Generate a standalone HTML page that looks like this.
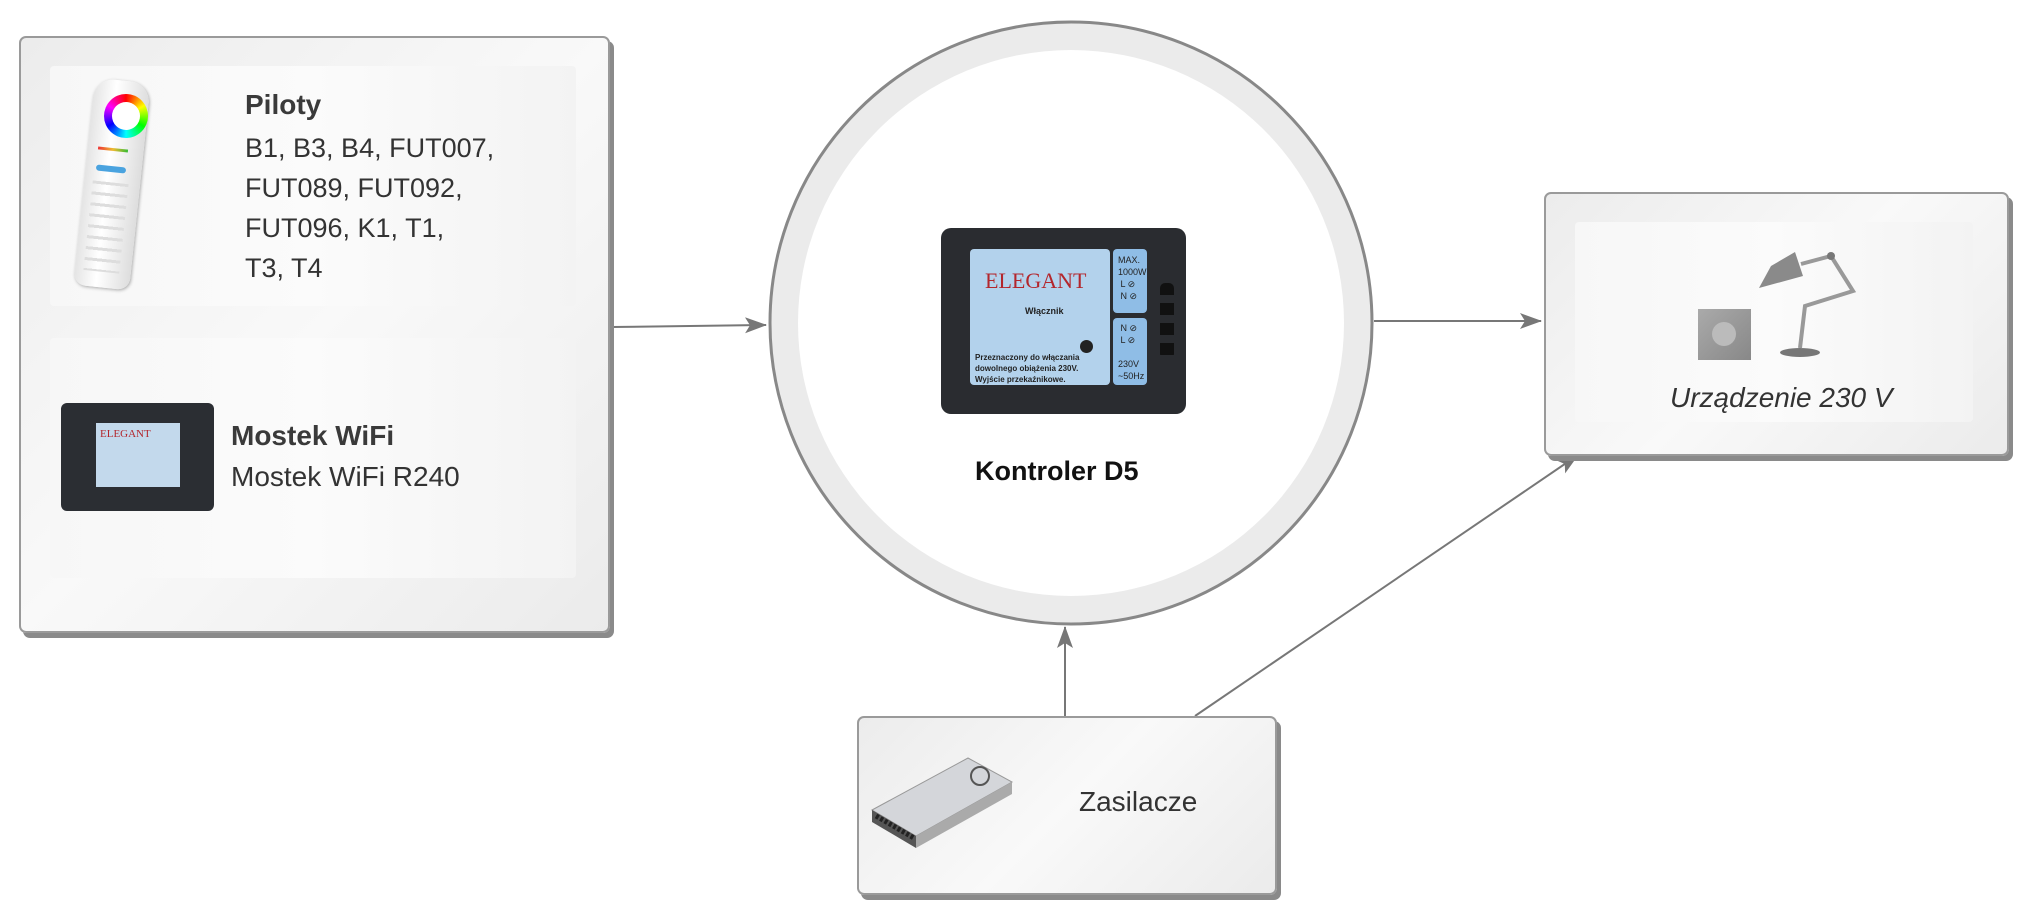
<!DOCTYPE html>
<html><head><meta charset="utf-8"><style>
body{margin:0;width:2030px;height:918px;background:#fff;position:relative;overflow:hidden;font-family:"Liberation Sans",sans-serif;color:#333}
.box{position:absolute;border:2px solid #9a9a9a;border-radius:7px;background:linear-gradient(135deg,#ececec,#f9f9f9 50%,#ebebeb);box-shadow:4px 5px 0 #8a8a8a}
.panel{position:absolute;background:linear-gradient(90deg,#f7f7f7,#fbfbfb 50%,#f3f3f3);border-radius:4px}
.t{position:absolute;white-space:nowrap}
</style></head><body>
<svg width="2030" height="918" style="position:absolute;left:0;top:0">
<defs><marker id="a" markerWidth="22" markerHeight="16" refX="21" refY="8" orient="auto" markerUnits="userSpaceOnUse"><path d="M0,0 L22,8 L0,16 L5,8 Z" fill="#777"/></marker></defs>
<circle cx="1071" cy="323" r="301" fill="#ebebeb" stroke="#888" stroke-width="3"/>
<circle cx="1071" cy="323" r="273" fill="#fff"/>
<g stroke="#777" stroke-width="2" fill="none">
<line x1="612" y1="327" x2="766" y2="325" marker-end="url(#a)"/>
<line x1="1374" y1="321" x2="1541" y2="321" marker-end="url(#a)"/>
<line x1="1065" y1="716" x2="1065" y2="627" marker-end="url(#a)"/>
<line x1="1195" y1="716" x2="1578" y2="455" marker-end="url(#a)"/>
</g>
</svg>
<div class="box" style="left:19px;top:36px;width:587px;height:593px"></div>
<div class="panel" style="left:50px;top:66px;width:526px;height:240px"></div>
<div class="panel" style="left:50px;top:338px;width:526px;height:240px"></div>
<!-- remote -->
<div style="position:absolute;left:84px;top:80px;width:56px;height:208px;background:linear-gradient(90deg,#e4e4e4,#fff 40%,#ddd);border-radius:20px 20px 12px 12px;transform:rotate(6deg);box-shadow:1px 1px 3px #aaa"></div>
<div style="position:absolute;left:104px;top:94px;width:44px;height:44px;border-radius:50%;background:conic-gradient(red,yellow,lime,cyan,blue,magenta,red);"></div>
<div style="position:absolute;left:112px;top:102px;width:28px;height:28px;border-radius:50%;background:#fff"></div>
<div style="position:absolute;left:98px;top:148px;width:30px;height:3px;background:linear-gradient(90deg,#e33,#eb3,#3b3);transform:rotate(6deg)"></div>
<div style="position:absolute;left:96px;top:166px;width:30px;height:6px;background:#4aa3df;border-radius:3px;transform:rotate(6deg)"></div>
<div style="position:absolute;left:88px;top:182px;width:36px;height:90px;transform:rotate(6deg);background:repeating-linear-gradient(180deg,#ddd 0 3px,transparent 3px 11px)"></div>
<div class="t" style="left:245px;top:89px;font-size:28px;font-weight:bold;color:#3a3a3a">Piloty</div>
<div class="t" style="left:245px;top:128px;font-size:27px;line-height:40px">B1, B3, B4, FUT007,<br>FUT089, FUT092,<br>FUT096, K1, T1,<br>T3, T4</div>
<!-- mostek -->
<div style="position:absolute;left:61px;top:403px;width:153px;height:108px;background:#2b2e33;border-radius:6px"></div>
<div style="position:absolute;left:96px;top:423px;width:84px;height:64px;background:#c3d9ec"></div>
<div class="t" style="left:100px;top:428px;font-size:11px;color:#b3262c;font-family:'Liberation Serif',serif">ELEGANT</div>
<div class="t" style="left:231px;top:420px;font-size:28px;font-weight:bold;color:#3a3a3a">Mostek WiFi</div>
<div class="t" style="left:231px;top:461px;font-size:28px">Mostek WiFi R240</div>
<!-- controller -->
<div style="position:absolute;left:941px;top:228px;width:245px;height:186px;background:#2a2c30;border-radius:10px"></div>
<div style="position:absolute;left:970px;top:249px;width:140px;height:136px;background:#b3d2ec;border-radius:4px"></div>
<div style="position:absolute;left:1113px;top:249px;width:34px;height:64px;background:#8fbde6;border-radius:4px"></div>
<div style="position:absolute;left:1113px;top:318px;width:34px;height:67px;background:#8fbde6;border-radius:4px"></div>
<div class="t" style="left:1118px;top:254px;font-size:9px;line-height:12px;color:#222">MAX.<br>1000W<br>&nbsp;L ⊘<br>&nbsp;N ⊘</div>
<div class="t" style="left:1118px;top:322px;font-size:9px;line-height:12px;color:#222">&nbsp;N ⊘<br>&nbsp;L ⊘<br><br>230V<br>~50Hz</div>
<div style="position:absolute;left:1160px;top:283px;width:14px;height:76px;background:repeating-linear-gradient(180deg,#111 0 12px,#2a2c30 12px 20px);border-radius:5px"></div>
<div class="t" style="left:985px;top:268px;font-size:22px;color:#b3262c;font-family:'Liberation Serif',serif">ELEGANT</div>
<div class="t" style="left:1025px;top:306px;font-size:9px;font-weight:bold;color:#222">Włącznik</div>
<div class="t" style="left:975px;top:352px;font-size:8px;font-weight:bold;line-height:11px;color:#222">Przeznaczony do włączania<br>dowolnego obiążenia 230V.<br>Wyjście przekaźnikowe.</div>
<div style="position:absolute;left:1080px;top:340px;width:13px;height:13px;border-radius:50%;background:#222"></div>
<div class="t" style="left:975px;top:456px;font-size:27px;font-weight:bold;color:#111">Kontroler D5</div>
<!-- urzadzenie -->
<div class="box" style="left:1544px;top:192px;width:461px;height:260px"></div>
<div class="panel" style="left:1575px;top:222px;width:398px;height:200px"></div>
<div style="position:absolute;left:1698px;top:309px;width:53px;height:51px;background:linear-gradient(135deg,#aaa,#888)"></div>
<div style="position:absolute;left:1712px;top:322px;width:24px;height:24px;border-radius:50%;background:#bbb"></div>
<div style="position:absolute;left:1780px;top:348px;width:40px;height:9px;border-radius:50%;background:#777"></div>
<svg style="position:absolute;left:1753px;top:236px" width="112" height="124"><g stroke="#999" stroke-width="4" fill="none"><path d="M47 112 L52 70 L100 55 L78 20 L48 28"/></g><path d="M18 30 L42 16 L50 40 L6 52 Z" fill="#8a8a8a"/><circle cx="78" cy="20" r="4" fill="#777"/></svg>
<div class="t" style="left:1670px;top:382px;font-size:28px;font-style:italic">Urządzenie 230 V</div>
<!-- zasilacze -->
<div class="box" style="left:857px;top:716px;width:416px;height:175px"></div>
<svg style="position:absolute;left:868px;top:752px" width="150" height="100"><path d="M4 58 L100 6 L144 30 L48 84 Z" fill="#d4d6da" stroke="#999"/><path d="M4 58 L48 84 L48 96 L4 70 Z" fill="#555"/><path d="M48 84 L144 30 L144 42 L48 96 Z" fill="#aaa"/><circle cx="112" cy="24" r="9" fill="none" stroke="#555" stroke-width="2"/><path d="M8 64 L46 86" stroke="#222" stroke-width="5" stroke-dasharray="3 2"/></svg>
<div class="t" style="left:1079px;top:786px;font-size:28px">Zasilacze</div>
</body></html>
